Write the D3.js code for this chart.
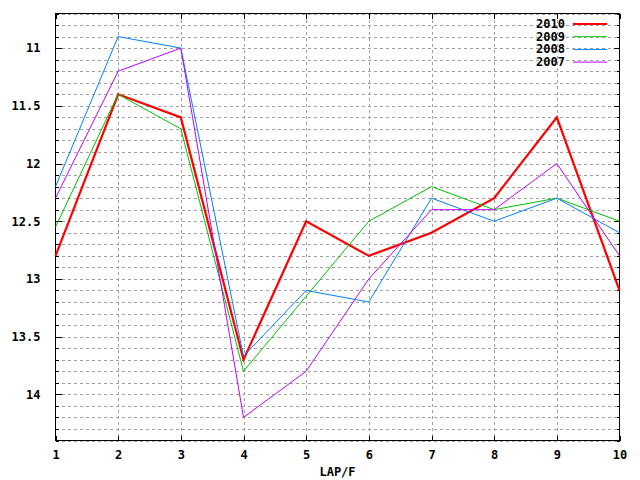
<!DOCTYPE html>
<html><head><meta charset="utf-8">
<script src="https://cdn.jsdelivr.net/npm/d3@7"></script>
<style>
html,body{margin:0;padding:0;background:#fff;}
text{font-family:"DejaVu Sans Mono","Liberation Mono",monospace;font-weight:bold;font-size:12px;fill:#000;}
</style></head>
<body>
<svg id="c" width="640" height="480"></svg>
<script>
const laps = [1,2,3,4,5,6,7,8,9,10];
const seriesNames = ["2010","2009","2008","2007"];
const y2010 = [12.8, 11.4, 11.6, 13.7, 12.5, 12.8, 12.6, 12.3, 11.6, 13.1];
const y2009 = [12.55, 11.4, 11.7, 13.8, 13.15, 12.5, 12.2, 12.4, 12.3, 12.5];
const y2008 = [12.2, 10.9, 11.0, 13.67, 13.1, 13.2, 12.3, 12.5, 12.3, 12.6];
const y2007 = [12.3, 11.2, 11.0, 14.2, 13.8, 13.0, 12.4, 12.4, 12.0, 12.8];
const yMajorTicks = [11, 11.5, 12, 12.5, 13, 13.5, 14];
const xLabel = "LAP/F";

const colors = ["#ff0000","#00c000","#0080ff","#c000ff"];
const widths = [2.2, 1, 1, 1];
const seriesVals = [y2010, y2009, y2008, y2007];

const L = 55.5, R = 619.5, T = 13.5, B = 440.5;
const svg = d3.select("#c");
const x = d3.scaleLinear().domain([1,10]).range([L,R]);
const y = d3.scaleLinear().domain([10.7,14.4]).range([T,B]);

const minorTicks = d3.range(107, 145).map(v => v/10);

// grid
const g = svg.append("g").attr("shape-rendering","crispEdges");
g.selectAll(".hg").data(minorTicks).enter().append("line")
  .attr("x1",L).attr("x2",R)
  .attr("y1",d=>Math.round(y(d))+0.5).attr("y2",d=>Math.round(y(d))+0.5)
  .attr("stroke","#a0a0a0").attr("stroke-dasharray","3,3");
g.selectAll(".vg").data(laps.slice(1,-1)).enter().append("line")
  .attr("y1",T).attr("y2",B)
  .attr("x1",d=>Math.round(x(d))+0.5).attr("x2",d=>Math.round(x(d))+0.5)
  .attr("stroke","#a0a0a0").attr("stroke-dasharray","3,3");

// axes via d3 axis
const yLeft = d3.axisLeft(y).tickValues(minorTicks).tickSizeInner(-3).tickSizeOuter(0).tickFormat("");
const yRight = d3.axisRight(y).tickValues(minorTicks).tickSizeInner(-3).tickSizeOuter(0).tickFormat("");
const yLeftMajor = d3.axisLeft(y).tickValues(yMajorTicks).tickSizeInner(-6).tickSizeOuter(0).tickPadding(15).tickFormat(d3.format("~g"));
const yRightMajor = d3.axisRight(y).tickValues(yMajorTicks).tickSizeInner(-6).tickSizeOuter(0).tickFormat("");
const xBottom = d3.axisBottom(x).tickValues(laps).tickSizeInner(-5).tickSizeOuter(0).tickPadding(10).tickFormat(d3.format("d"));
const xTop = d3.axisTop(x).tickValues(laps).tickSizeInner(-5).tickSizeOuter(0).tickFormat("");

function styleAxis(sel){
  sel.select(".domain").remove();
  sel.selectAll("line").attr("stroke","#000").attr("shape-rendering","crispEdges");
  sel.selectAll("text").attr("fill","#000");
  sel.attr("font-family",null).attr("font-size",null);
}
svg.append("g").attr("transform",`translate(${L},0)`).call(yLeft).call(styleAxis);
svg.append("g").attr("transform",`translate(${R},0)`).call(yRight).call(styleAxis);
svg.append("g").attr("transform",`translate(${L},0)`).call(yLeftMajor).call(styleAxis);
svg.append("g").attr("transform",`translate(${R},0)`).call(yRightMajor).call(styleAxis);
svg.append("g").attr("transform",`translate(0,${B})`).call(xBottom).call(styleAxis);
svg.append("g").attr("transform",`translate(0,${T})`).call(xTop).call(styleAxis);

// border
svg.append("rect").attr("x",L).attr("y",T).attr("width",R-L).attr("height",B-T)
  .attr("fill","none").attr("stroke","#000").attr("shape-rendering","crispEdges");

// x label
svg.append("text").attr("x",(L+R)/2).attr("y",476).attr("text-anchor","middle").text(xLabel);

// lines
const line = d3.line().x((d,i)=>x(laps[i])).y(d=>y(d));
seriesVals.forEach((vals,k)=>{
  svg.append("path").datum(vals).attr("d",line).attr("fill","none")
    .attr("stroke",colors[k]).attr("stroke-width",widths[k]).attr("stroke-linejoin","miter");
});

// legend
const lg = svg.append("g");
seriesNames.forEach((n,k)=>{
  const yy = 24 + k*12.7;
  lg.append("text").attr("x",565).attr("y",yy+4).attr("text-anchor","end").text(n);
  lg.append("line").attr("x1",573).attr("x2",607).attr("y1",yy).attr("y2",yy)
    .attr("stroke",colors[k]).attr("stroke-width",widths[k]);
});
</script>
</body></html>
